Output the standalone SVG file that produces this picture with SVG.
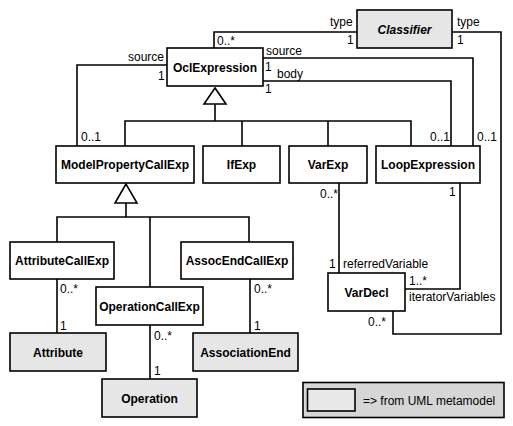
<svg xmlns="http://www.w3.org/2000/svg" width="513" height="426" viewBox="0 0 513 426">
<style>
.box{fill:#fff;stroke:#000;stroke-width:1.6}
.uml{fill:#e6e6e6;stroke:#000;stroke-width:1.6}
.n{font-family:"Liberation Sans",Arial,sans-serif;font-size:12px;font-weight:bold;text-anchor:middle}
.l{font-family:"Liberation Sans",Arial,sans-serif;font-size:12px}
.c{fill:none;stroke:#000;stroke-width:1.6}
.tri{fill:#fff;stroke:#000;stroke-width:1.6}
</style>
<rect width="513" height="426" fill="#fff"/>
<g id="connectors">
<polyline class="c" points="357,32 214,32 214,48"/>
<polyline class="c" points="452,32 501,32 501,334 393,334 393,311"/>
<polyline class="c" points="167,65 77,65 77,146"/>
<polyline class="c" points="263,58 473,58 473,146"/>
<polyline class="c" points="263,81 451,81 451,146"/>
<polyline class="c" points="215,104 215,121"/>
<polyline class="c" points="125,146 125,121 411,121 411,146"/>
<line class="c" x1="242" y1="121" x2="242" y2="146"/>
<line class="c" x1="328" y1="121" x2="328" y2="146"/>
<polygon class="tri" points="215,88 204,104 226,104"/>
<polyline class="c" points="126,203 126,217"/>
<polyline class="c" points="57,242 57,217 249,217 249,242"/>
<line class="c" x1="150" y1="217" x2="150" y2="287"/>
<polygon class="tri" points="126,184 115,203 137,203"/>
<line class="c" x1="57" y1="279" x2="57" y2="333"/>
<line class="c" x1="150" y1="325" x2="150" y2="379"/>
<line class="c" x1="250" y1="279" x2="250" y2="333"/>
<line class="c" x1="339" y1="183" x2="339" y2="273"/>
<polyline class="c" points="460,183 460,289 405,289"/>
<text class="l" x="330" y="26">type</text>
<text class="l" x="347" y="44">1</text>
<text class="l" x="217" y="45">0..*</text>
<text class="l" x="457" y="26">type</text>
<text class="l" x="457" y="44">1</text>
<text class="l" x="128" y="61">source</text>
<text class="l" x="158" y="80">1</text>
<text class="l" x="81" y="141">0..1</text>
<text class="l" x="266" y="55">source</text>
<text class="l" x="265" y="71">1</text>
<text class="l" x="277" y="78">body</text>
<text class="l" x="265" y="93">1</text>
<text class="l" x="430" y="141">0..1</text>
<text class="l" x="477" y="141">0..1</text>
<text class="l" x="60" y="293">0..*</text>
<text class="l" x="60" y="330">1</text>
<text class="l" x="154" y="340">0..*</text>
<text class="l" x="154" y="375">1</text>
<text class="l" x="254" y="293">0..*</text>
<text class="l" x="254" y="330">1</text>
<text class="l" x="320" y="198">0..*</text>
<text class="l" x="449" y="196">1</text>
<text class="l" x="329" y="268">1</text>
<text class="l" x="343" y="268">referredVariable</text>
<text class="l" x="409" y="285">1..*</text>
<text class="l" x="409" y="301">iteratorVariables</text>
<text class="l" x="368" y="326">0..*</text>
</g>
<g id="Classifier"><rect class="uml" x="357" y="10" width="95" height="38"/><text class="n" x="404.5" y="33.5" font-style="italic">Classifier</text></g>
<g id="OclExpression"><rect class="box" x="167" y="48" width="96" height="38"/><text class="n" x="215" y="71.5">OclExpression</text></g>
<g id="ModelPropertyCallExp"><rect class="box" x="56" y="146" width="138" height="37"/><text class="n" x="125" y="169">ModelPropertyCallExp</text></g>
<g id="IfExp"><rect class="box" x="203" y="146" width="77" height="37"/><text class="n" x="241.5" y="169">IfExp</text></g>
<g id="VarExp"><rect class="box" x="289" y="146" width="78" height="37"/><text class="n" x="328" y="169">VarExp</text></g>
<g id="LoopExpression"><rect class="box" x="376" y="146" width="104" height="37"/><text class="n" x="428" y="169">LoopExpression</text></g>
<g id="AttributeCallExp"><rect class="box" x="10" y="242" width="104" height="37"/><text class="n" x="62" y="265">AttributeCallExp</text></g>
<g id="OperationCallExp"><rect class="box" x="96" y="287" width="107" height="38"/><text class="n" x="149.5" y="310.5">OperationCallExp</text></g>
<g id="AssocEndCallExp"><rect class="box" x="181" y="242" width="112" height="37"/><text class="n" x="237" y="265">AssocEndCallExp</text></g>
<g id="Attribute"><rect class="uml" x="10" y="333" width="96" height="38"/><text class="n" x="58" y="356.5">Attribute</text></g>
<g id="AssociationEnd"><rect class="uml" x="193" y="333" width="105" height="38"/><text class="n" x="245.5" y="356.5">AssociationEnd</text></g>
<g id="Operation"><rect class="uml" x="102" y="379" width="95" height="38"/><text class="n" x="149.5" y="402.5">Operation</text></g>
<g id="VarDecl"><rect class="box" x="328" y="273" width="77" height="38"/><text class="n" x="366.5" y="296.5">VarDecl</text></g>
<g id="Legend"><rect x="303" y="382.5" width="201" height="35" fill="#d6d6d6" stroke="#000" stroke-width="1.6"/><rect x="307.5" y="389" width="47.5" height="22" fill="#e8e8e8" stroke="#000" stroke-width="1.6"/><text class="l" x="363" y="404.5">=&gt; from UML metamodel</text></g>
</svg>
